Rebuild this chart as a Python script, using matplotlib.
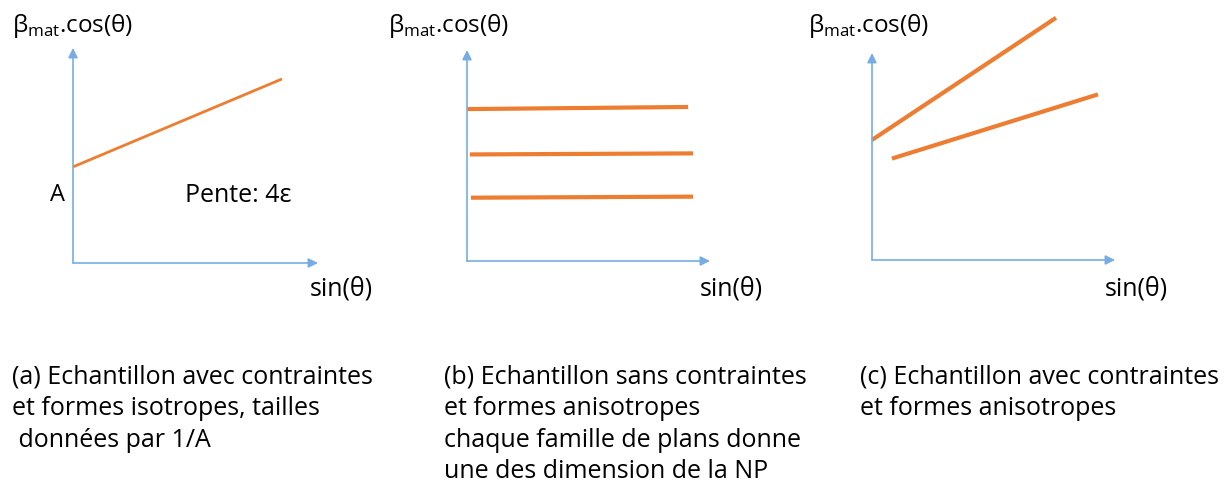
import matplotlib
matplotlib.use("Agg")
import matplotlib.pyplot as plt

plt.rcParams['font.family'] = ['Open Sans', 'DejaVu Sans']

W, H = 1229, 491
AXIS_COLOR = '#76AEE3'
LINE_COLOR = '#ED7D31'

# Panel geometry (pixels): origin x, origin y, x-arrow tip, y-arrow tip
panels = [(73, 263, 318, 48), (467, 261, 710, 50), (872, 260, 1115, 53)]

# Line data per panel in normalized axis units: (x0, y0, x1, y1)
lines_a = [(0.0, 0.447, 0.853, 0.856)]
lines_b = [(0.0, 0.72, 0.91, 0.73), (0.012, 0.505, 0.93, 0.51), (0.016, 0.30, 0.93, 0.305)]
lines_c = [(0.0, 0.58, 0.757, 1.17), (0.082, 0.49, 0.93, 0.80)]
line_widths = [2.0, 3.0, 3.0]

ylabel = r"β$_{\mathregular{mat}}$.cos(θ)"
xlabel = "sin(θ)"
captions = [
    "(a) Echantillon avec contraintes\net formes isotropes, tailles\n données par 1/A",
    "(b) Echantillon sans contraintes\net formes anisotropes\nchaque famille de plans donne\nune des dimension de la NP",
    "(c) Echantillon avec contraintes\net formes anisotropes",
]
caption_x = [12, 444, 860]
ylabel_x = [12, 388, 808]
xlabel_x = [310, 700, 1105]

fig = plt.figure(figsize=(W / 100, H / 100), dpi=100)
bg = fig.add_axes([0, 0, 1, 1])
bg.set_xlim(0, W)
bg.set_ylim(H, 0)
bg.axis('off')

for i, (ox, oy, tx, ty) in enumerate(panels):
    ax = fig.add_axes([ox / W, 1 - oy / H, (tx - ox) / W, (oy - ty) / H])
    ax.set_xlim(0, 1)
    ax.set_ylim(0, 1)
    ax.axis('off')
    ax.annotate('', xy=(1, 0), xytext=(0, 0), xycoords='axes fraction',
                arrowprops=dict(arrowstyle='-|>', color=AXIS_COLOR, lw=1.2,
                                mutation_scale=14, shrinkA=0, shrinkB=0))
    ax.annotate('', xy=(0, 1), xytext=(0, 0), xycoords='axes fraction',
                arrowprops=dict(arrowstyle='-|>', color=AXIS_COLOR, lw=1.2,
                                mutation_scale=14, shrinkA=0, shrinkB=0))
    for (x0, y0, x1, y1) in [lines_a, lines_b, lines_c][i]:
        ax.plot([x0, x1], [y0, y1], color=LINE_COLOR, lw=line_widths[i],
                solid_capstyle='butt', clip_on=False)
    bg.text(ylabel_x[i], 26, ylabel, fontsize=17.5, va='center', ha='left')
    bg.text(xlabel_x[i], 289, xlabel, fontsize=18, va='center', ha='left')
    bg.text(caption_x[i], 365, captions[i], fontsize=18, va='top', ha='left',
            linespacing=1.33)

bg.text(58, 195, "A", fontsize=17, va='center', ha='center')
bg.text(185, 195, "Pente: 4ε", fontsize=18, va='center', ha='left')

fig.savefig('out.png', dpi=100)
